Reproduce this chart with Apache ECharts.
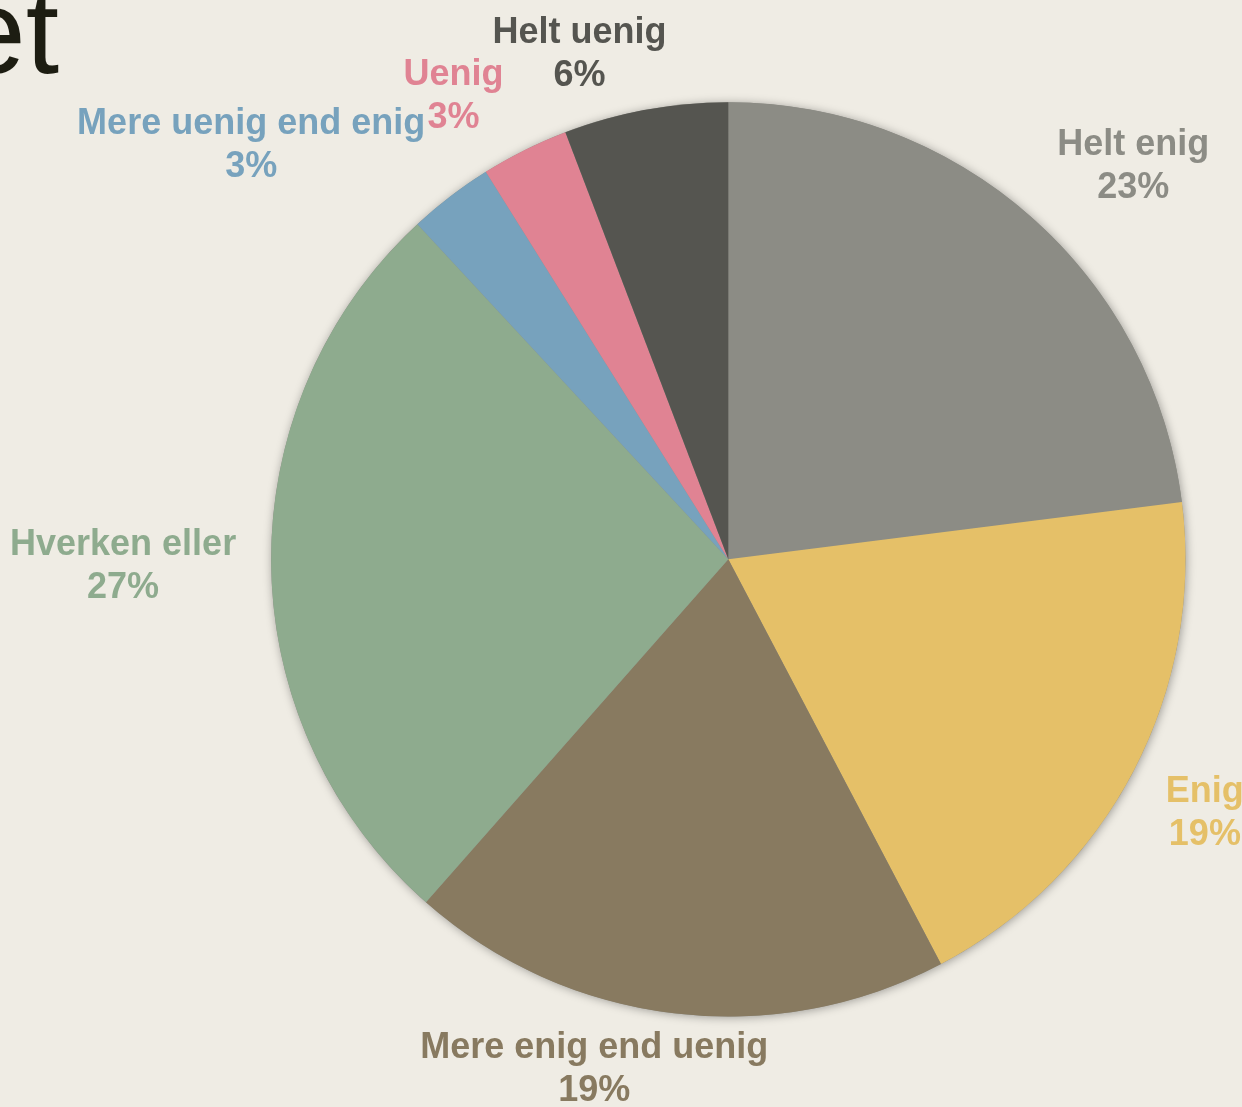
<!DOCTYPE html>
<html><head><meta charset="utf-8">
<script src="https://cdn.jsdelivr.net/npm/echarts@6/dist/echarts.min.js"></script>
<style>html,body{margin:0;padding:0;background:#efece4}#c{width:1242px;height:1107px}</style>
</head><body><div id="c"></div>
<script>
const categories = ['Helt enig','Enig','Mere enig end uenig','Hverken eller','Mere uenig end enig','Uenig','Helt uenig'];
const values = [23.0, 19.3, 19.2, 26.6, 3.0, 3.1, 5.8];
const colors = ['#8c8c85','#e5c068','#887a60','#8eab8e','#77a2bd','#e08393','#555550'];
const labelColors = ['#8c8c85','#e5c068','#887a60','#8eab8e','#77a2bd','#e08393','#555550'];
const titleText = 'et';

const chart = echarts.init(document.getElementById('c'));
const CX = 0.5864, CY = 0.5053, RR = 0.826;
const total = values.reduce((a,b)=>a+b,0);
const mids = []; let acc = 0;
values.forEach(v => { mids.push((acc + v/2)/total*2*Math.PI); acc += v; });
function clamp(v){ return Math.max(-1, Math.min(1, v)); }

const option = {
  backgroundColor: '#efece4',
  animation: false,
  graphic: [{
    type: 'text', x: -41, y: 40,
    style: { text: titleText, fontSize: 120, fontFamily: 'Liberation Sans', fill: '#1d1d12', verticalAlign: 'middle', align: 'left' }
  }],
  series: [
    {
      type: 'pie', silent: true, center: [(CX*100)+'%', (CY*100)+'%'], radius: (RR*100)+'%',
      label: {show: false}, labelLine: {show: false},
      itemStyle: { color: '#8c8c85', shadowBlur: 10, shadowColor: 'rgba(0,0,0,0.35)', shadowOffsetX: 1, shadowOffsetY: 1 },
      data: [{value: 1, name: ''}], z: 1
    },
    {
      type: 'pie', center: [(CX*100)+'%', (CY*100)+'%'], radius: (RR*100)+'%',
      startAngle: 90, clockwise: true, avoidLabelOverlap: false, z: 2,
      labelLine: { show: false },
      label: {
        show: true, position: 'outside',
        formatter: p => p.name + '\n' + Math.round(p.percent) + '%',
        fontSize: 36, fontWeight: 'bold', fontFamily: 'Liberation Sans', lineHeight: 43, align: 'center'
      },
      labelLayout: function(p){
        const W = chart.getWidth(), H = chart.getHeight();
        const cx = W*CX, cy = H*CY, r = Math.min(W,H)/2*RR;
        const t = mids[p.dataIndex], s = Math.sin(t), c = Math.cos(t);
        const D = r + 25, hw = p.labelRect.width/2 + 10, hh = p.labelRect.height/2 - 12;
        return { x: cx + D*s + hw*clamp(3.5*s), y: cy - D*c - hh*clamp(3.5*c), align: 'center', verticalAlign: 'middle' };
      },
      data: categories.map((n,i) => ({ name: n, value: values[i], itemStyle: {color: colors[i]}, label: {color: labelColors[i]} }))
    }
  ]
};
chart.setOption(option);
</script></body></html>
